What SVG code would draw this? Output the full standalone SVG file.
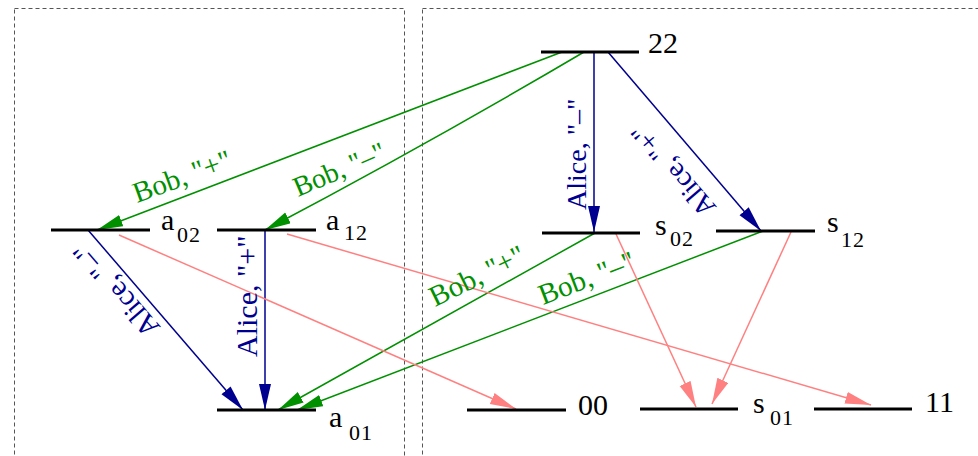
<svg xmlns="http://www.w3.org/2000/svg" width="978" height="456" viewBox="0 0 978 456">
<style>
  .frame{fill:none;stroke:#555;stroke-width:1;stroke-dasharray:4 3}
  .lvl{stroke:#000;stroke-width:3;fill:none}
  .lbl{font-family:"Liberation Serif","Times New Roman",serif;font-size:30px;fill:#000}
  .sub{font-size:22px;letter-spacing:1px}
  .g{stroke:#009000;stroke-width:1.5;fill:none;marker-end:url(#ag)}
  .b{stroke:#000090;stroke-width:1.5;fill:none;marker-end:url(#ab)}
  .p{stroke:#ff8080;stroke-width:1.5;fill:none;marker-end:url(#ap)}
  .tg{font-family:"Liberation Serif","Times New Roman",serif;fill:#009000}
  .tb{font-family:"Liberation Serif","Times New Roman",serif;fill:#000090}
</style>
<defs>
  <marker id="ag" markerUnits="userSpaceOnUse" markerWidth="28" markerHeight="14" refX="26" refY="6" orient="auto"><path d="M0,0 L26,6 L0,12 z" fill="#009000"/></marker>
  <marker id="ab" markerUnits="userSpaceOnUse" markerWidth="28" markerHeight="14" refX="26" refY="6" orient="auto"><path d="M0,0 L26,6 L0,12 z" fill="#000090"/></marker>
  <marker id="ap" markerUnits="userSpaceOnUse" markerWidth="28" markerHeight="14" refX="26" refY="6" orient="auto"><path d="M0,0 L26,6 L0,12 z" fill="#ff8080"/></marker>
</defs>
<rect width="978" height="456" fill="#fff"/>
<g id="frames">
  <rect class="frame" x="14.5" y="8.5" width="390" height="470"/>
  <rect class="frame" x="422.5" y="8.5" width="600" height="470"/>
</g>
<g id="connectors">
  <path class="g" d="M562,52 L97,230"/>
  <path class="g" d="M584,52 Q428,144 265,230"/>
  <path class="g" d="M595,233 L278,410"/>
  <path class="g" d="M763,231 L297,410"/>
  <path class="b" d="M594,52 L594,232"/>
  <path class="b" d="M608,52 L761,231"/>
  <path class="b" d="M88,230 L243,410"/>
  <path class="b" d="M265,230 L265,410"/>
  <path class="p" d="M119,235 L516,409"/>
  <path class="p" d="M287,234 L871,405"/>
  <path class="p" d="M616,234 L696,407"/>
  <path class="p" d="M791,232 L712,404"/>
  <text class="tg" font-size="29" transform="translate(137,203) rotate(-20)">Bob, "+"</text>
  <text class="tg" font-size="28" transform="translate(298,197) rotate(-23)">Bob, "–"</text>
  <text class="tg" font-size="29" transform="translate(435,307) rotate(-26)">Bob, "+"</text>
  <text class="tg" font-size="29" transform="translate(543,305) rotate(-21)">Bob, "–"</text>
  <text class="tb" font-size="28" transform="translate(586,210) rotate(-90)">Alice, "–"</text>
  <text class="tb" font-size="28" transform="translate(717,207) rotate(229.5)">Alice, "+"</text>
  <text class="tb" font-size="29" transform="translate(161,327) rotate(229.3)">Alice, "–"</text>
  <text class="tb" font-size="30" transform="translate(257,357) rotate(-90)">Alice, "+"</text>
</g>
<g id="n22"><line class="lvl" x1="541" y1="52" x2="639" y2="52"/><text class="lbl" x="648" y="53">22</text></g>
<g id="a02"><line class="lvl" x1="51" y1="230" x2="150" y2="230"/><text class="lbl" x="161" y="230">a<tspan class="sub" x="177" y="242">02</tspan></text></g>
<g id="a12"><line class="lvl" x1="217" y1="230" x2="316" y2="230"/><text class="lbl" x="326" y="230">a<tspan class="sub" x="344" y="240">12</tspan></text></g>
<g id="a01"><line class="lvl" x1="217" y1="410" x2="316" y2="410"/><text class="lbl" x="329" y="427">a<tspan class="sub" x="349" y="440">01</tspan></text></g>
<g id="s02"><line class="lvl" x1="542" y1="233" x2="640" y2="233"/><text class="lbl" x="655" y="235">s<tspan class="sub" x="670" y="246">02</tspan></text></g>
<g id="s12"><line class="lvl" x1="716" y1="231" x2="815" y2="231"/><text class="lbl" x="827" y="232">s<tspan class="sub" x="841" y="247">12</tspan></text></g>
<g id="n00"><line class="lvl" x1="467" y1="410" x2="566" y2="410"/><text class="lbl" x="578" y="415">00</text></g>
<g id="s01"><line class="lvl" x1="640" y1="409" x2="738" y2="409"/><text class="lbl" x="753" y="413">s<tspan class="sub" x="770" y="425">01</tspan></text></g>
<g id="n11"><line class="lvl" x1="814" y1="409" x2="912" y2="409"/><text class="lbl" x="925" y="412">11</text></g>
</svg>
